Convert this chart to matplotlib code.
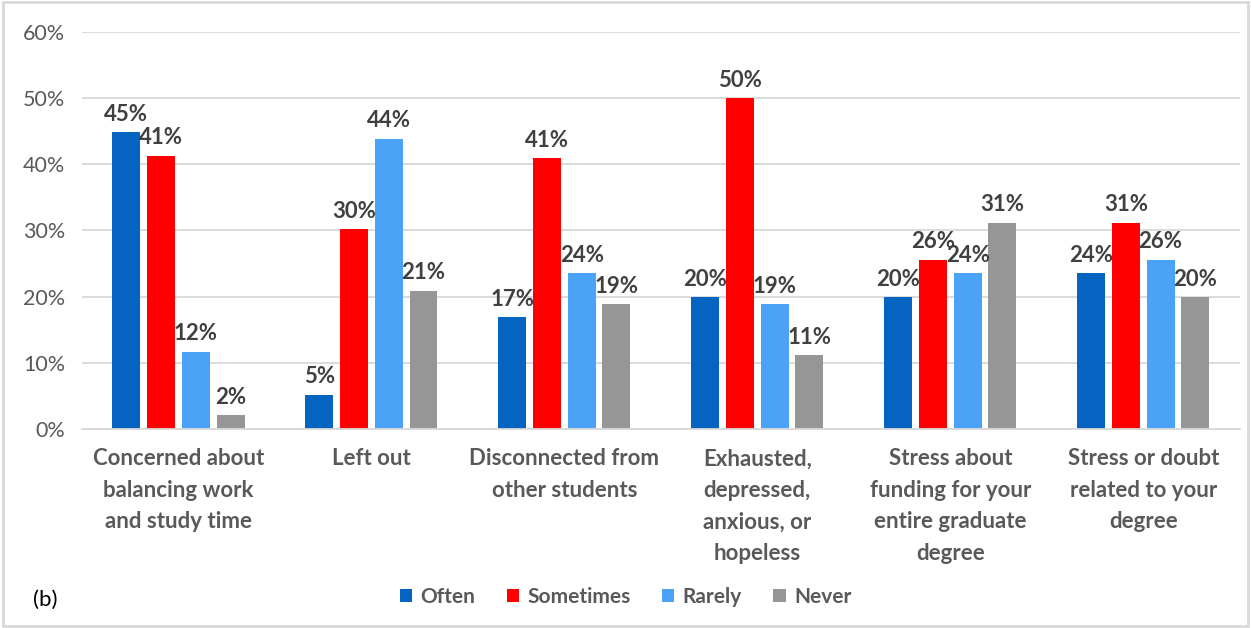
import matplotlib.pyplot as plt
import numpy as np
from matplotlib.patches import Rectangle

categories = ['Concerned about\nbalancing work\nand study time', 'Left out',
              'Disconnected from\nother students',
              'Exhausted,\ndepressed,\nanxious, or\nhopeless',
              'Stress about\nfunding for your\nentire graduate\ndegree',
              'Stress or doubt\nrelated to your\ndegree']
series = ['Often', 'Sometimes', 'Rarely', 'Never']
often = [44.9, 5.2, 16.9, 19.9, 19.9, 23.6]
sometimes = [41.3, 30.2, 40.9, 50.0, 25.6, 31.2]
rarely = [11.7, 43.9, 23.6, 18.9, 23.6, 25.6]
never = [2.1, 20.9, 18.9, 11.2, 31.2, 19.9]
colors = ['#0563C1', '#FF0000', '#4BA3F8', '#969696']

plt.rcParams['font.family'] = ['Lato', 'DejaVu Sans']
txt = '#595959'

fig = plt.figure(figsize=(12.51, 6.28), dpi=100)
ax = fig.add_axes([0.0655, 0.317, 0.9255, 0.632])

x = np.arange(len(categories))
step = 0.18
for i, (name, vals) in enumerate(zip(series, [often, sometimes, rarely, never])):
    pos = x + (i - 1.5) * step
    bars = ax.bar(pos, vals, width=0.145, color=colors[i], label=name, zorder=3)
    for b, v in zip(bars, vals):
        ax.text(b.get_x() + b.get_width() / 2, v + 1.1, f'{v:.0f}%', ha='center', va='bottom',
                fontsize=16, fontweight='bold', color='#404040', zorder=4)

ax.set_xlim(-0.5, 5.5)
ax.set_ylim(0, 60)
ax.set_yticks(range(0, 61, 10))
ax.set_yticklabels([f'{t}%' for t in range(0, 61, 10)], fontsize=15.5, color=txt)
ax.set_xticks(x)
ax.set_xticklabels(categories, fontsize=16, fontweight='bold', color=txt, linespacing=1.62)
ax.tick_params(axis='both', length=0)
ax.tick_params(axis='y', pad=12)
ax.tick_params(axis='x', pad=14)
ax.grid(axis='y', color='#D9D9D9', linewidth=1.3, zorder=0)
for s in ['top', 'right', 'left']:
    ax.spines[s].set_visible(False)
ax.spines['bottom'].set_color('#D9D9D9')
ax.spines['bottom'].set_linewidth(1.3)
ax.spines['bottom'].set_zorder(3)

leg = fig.legend(loc='center', bbox_to_anchor=(0.5, 0.049), ncol=4, frameon=False,
                 prop={'size': 15, 'weight': 'bold'}, handlelength=0.6, handleheight=0.6,
                 handletextpad=0.4, columnspacing=1.5)
for t in leg.get_texts():
    t.set_color(txt)

fig.text(0.026, 0.045, '(b)', fontsize=16, color='black', ha='left', va='center')
fig.patches.append(Rectangle((0.002, 0.003), 0.996, 0.994, transform=fig.transFigure,
                             fill=False, edgecolor='#D9D9D9', linewidth=2))

fig.savefig('out.png', dpi=100, facecolor='w')
